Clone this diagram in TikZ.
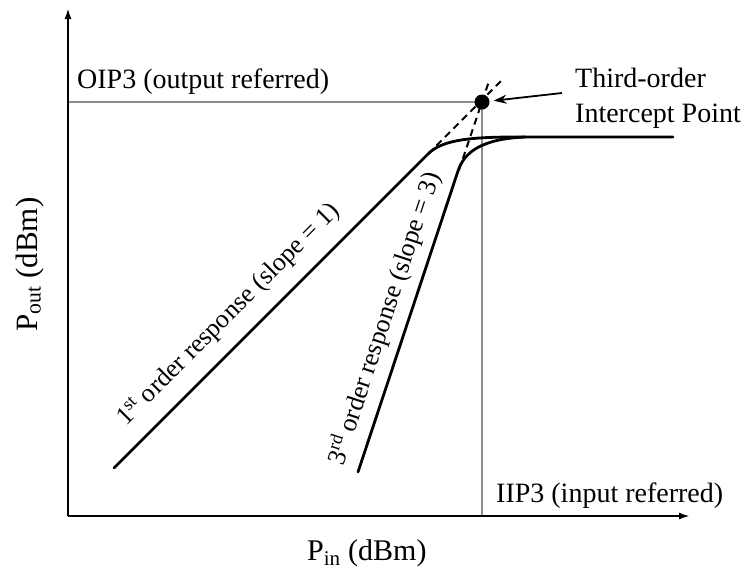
\documentclass[tikz,border=0pt]{standalone}
\usepackage{fontspec}
\setmainfont{Liberation Serif}
\usetikzlibrary{arrows.meta}
\begin{document}
\begin{tikzpicture}[x=1pt,y=-1pt,
  lbl/.style={inner sep=0pt, anchor=base west, font=\fontsize{28}{34}\selectfont},
  rlbl/.style={inner sep=0pt, anchor=base west, font=\fontsize{26}{30}\selectfont},
  curve/.style={line width=2.8pt, line cap=round, line join=round},
  guide/.style={line width=2pt, draw=black!45},
  extn/.style={line width=2pt, dash pattern=on 7pt off 5pt},
  axis/.style={line width=2pt, -{Latex[length=11pt,width=7pt]}}]
\useasboundingbox (0,0) rectangle (747,571);
% coordinates
\coordinate (o) at (68,516);
\coordinate (ytop) at (68,8);
\coordinate (xend) at (690,516);
\coordinate (oip) at (68,102);
\coordinate (iip) at (482,516);
\coordinate (ipc) at (482,102);
\coordinate (a1) at (114,468);
\coordinate (b1) at (428,154);
\coordinate (a3) at (358,472);
\coordinate (b3) at (458,171);
\coordinate (flat) at (673,137);
\coordinate (e1) at (504,78);
\coordinate (d3) at (459,170);
\coordinate (e3) at (489.4,80);
\coordinate (astart) at (562,93);
% guides
\draw[guide] (oip) -- (ipc) -- (iip);
% axes
\draw[axis] (o) -- (ytop);
\draw[axis] (o) -- (xend);
% curves
\draw[curve] (a1) -- (b1) .. controls (441,141) and (465,137) .. (515,137) -- (flat);
\draw[curve] (a3) -- (b3) .. controls (464,153) and (480,139) .. (525,137);
% extensions
\draw[extn] (b1) -- (e1);
\draw[extn] (d3) -- (e3);
% intercept point
\node[circle, fill=black, inner sep=0pt, minimum size=15pt] (ip) at (ipc) {};
\draw[line width=1.8pt, -{Stealth[length=13pt,width=9pt]}, shorten >=4pt] (astart) -- (ip);
% labels
\node[lbl] (oiplbl) at (77,88) {OIP3 (output referred)};
\node[lbl] (iiplbl) at (496,502) {IIP3 (input referred)};
\node[lbl] (tlbl1) at (575,87) {Third-order};
\node[lbl] (tlbl2) at (575,122) {Intercept Point};
\node[lbl, font=\fontsize{30}{34}\selectfont] (xlbl) at (307,560) {P\textsubscript{in} (dBm)};
\node[lbl, rotate=90, font=\fontsize{31}{34}\selectfont] (ylbl) at (37,332) {P\textsubscript{out} (dBm)};
\node[rlbl, rotate=45] (l1) at (126,427) {1\textsuperscript{st} order response (slope = 1)};
\node[rlbl, rotate=71.57] (l3) at (343,467) {3\textsuperscript{rd} order response (slope = 3)};
\end{tikzpicture}
\end{document}
